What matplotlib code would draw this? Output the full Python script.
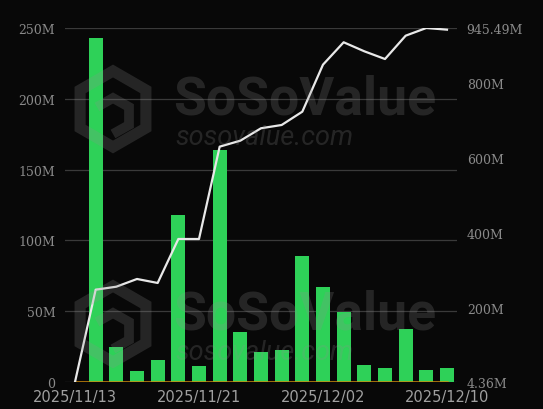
import numpy as np
import matplotlib
matplotlib.use('Agg')
import matplotlib.pyplot as plt
from matplotlib.patches import RegularPolygon, Polygon

# 일별 순유입 (M) / 누적 (M)
dates = ['2025/11/13', '2025/11/14', '2025/11/17', '2025/11/18', '2025/11/19',
         '2025/11/20', '2025/11/21', '2025/11/24', '2025/11/25', '2025/11/26',
         '2025/11/28', '2025/12/01', '2025/12/02', '2025/12/03', '2025/12/04',
         '2025/12/05', '2025/12/08', '2025/12/09', '2025/12/10']
daily_inflow = [0, 243.0, 24.9, 7.8, 15.3, 118.0, 11.5, 163.8, 35.1, 21.4,
                22.4, 89.2, 67.3, 49.6, 12.2, 9.6, 37.4, 8.2, 9.6]
daily_outflow = [0] * len(dates)
cumulative = [4.36, 249.7, 257.7, 278.2, 267.6, 384.5, 384.5, 630.0, 645.9, 678.9,
              687.6, 723.0, 848.0, 907.5, 883.5, 863.0, 925.0, 945.49, 941.0]
left_ticks = [0, 50, 100, 150, 200, 250]
left_labels = ['0', '50M', '100M', '150M', '200M', '250M']
right_ticks = [4.36, 200, 400, 600, 800, 945.49]
right_labels = ['4.36M', '200M', '400M', '600M', '800M', '945.49M']
shown_dates = ['2025/11/13', '2025/11/21', '2025/12/02', '2025/12/10']

bg = '#080808'
fig = plt.figure(figsize=(5.43, 4.10), dpi=100, facecolor=bg)
ax = fig.add_axes([0.1197, 0.0659, 0.7219, 0.8634])
ax.set_facecolor(bg)

x = np.arange(len(dates))
ax.bar(x, daily_inflow, width=0.68, color='#2ed158', zorder=2)
ax.plot(x, daily_outflow, color='#d08c0a', lw=1.8, zorder=3)

ax.set_xlim(-0.484, len(dates) - 1 + 0.484)
ax.set_ylim(0, 250)
ax.set_yticks(left_ticks)
ax.set_yticklabels(left_labels, family='DejaVu Serif', fontsize=9, color='#8a8a8a')
ax.yaxis.grid(True, color='#3a3a3a', lw=0.9, zorder=0)
ax.tick_params(axis='y', length=0, pad=7)

pos = [dates.index(d) for d in shown_dates]
ax.set_xticks(pos)
ax.set_xticklabels(shown_dates, family='DejaVu Sans', fontsize=10.5, color='#a0a0a0')
ax.tick_params(axis='x', length=0, pad=5)
for s in ax.spines.values():
    s.set_visible(False)

ax2 = ax.twinx()
ax2.plot(x, cumulative, color='#e8e8e8', lw=1.6, zorder=4)
ax2.set_ylim(4.36, 945.49)
ax2.set_yticks(right_ticks)
ax2.set_yticklabels(right_labels, family='DejaVu Serif', fontsize=9, color='#8a8a8a')
ax2.tick_params(axis='y', length=0, pad=7)
for s in ax2.spines.values():
    s.set_visible(False)

# 워터마크
wm = dict(color='#909090', alpha=0.22, zorder=10)
for cy in (100, 315):
    yf = 1 - cy / 410
    fig.text(173 / 543, yf, 'SoSoValue', fontsize=38.5, weight='bold', family='Roboto',
             ha='left', va='center', **wm)
    fig.text(175 / 543, yf - 38 / 410, 'sosovalue.com', fontsize=19.5, style='italic',
             family='Roboto', ha='left', va='center', **wm)
    cx, cyp = 113, 410 - cy - 10
    hexa = RegularPolygon((cx, cyp), numVertices=6, radius=38, orientation=0,
                          transform=None, fill=False, lw=8, ec='#909090', alpha=0.22, zorder=10)
    fig.patches.append(hexa)
    cube = Polygon([(cx - 16, cyp + 2), (cx, cyp + 11), (cx + 16, cyp + 2),
                    (cx + 16, cyp - 16), (cx, cyp - 25)],
                   closed=False, transform=None, fill=False, lw=7, ec='#909090', alpha=0.22, zorder=10)
    fig.patches.append(cube)

fig.savefig('out.png', dpi=100, facecolor=bg)
